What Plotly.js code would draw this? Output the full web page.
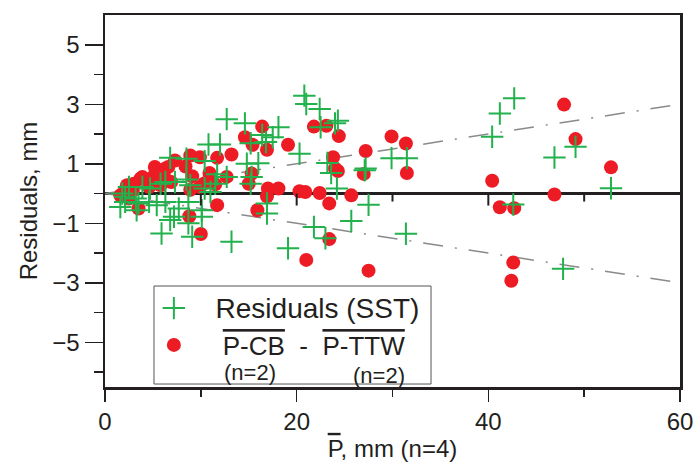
<!DOCTYPE html>
<html>
<head>
<meta charset="utf-8">
<script src="https://cdn.plot.ly/plotly-3.0.1.min.js"></script>
<style>html,body{margin:0;padding:0;background:#fff;}#chart{width:694px;height:464px;}</style>
</head>
<body>
<div id="chart"></div>
<script>
// Residuals (SST) – green plus markers
const sstX = [1.6,1.8,2.1,2.1,2.5,3.2,3.3,3.5,3.9,4.6,4.7,5.4,5.8,6.3,6.3,6.8,5.9,6.8,7.3,8.5,8.5,8.9,7.7,7.2,8.7,10.1,10.1,8.7,9.1,10.4,10.4,11.0,11.5,11.7,12.7,10.8,12.0,13.2,12.7,14.6,18.1,16.4,17.5,15.2,16.8,20.3,14.8,16.0,15.3,15.2,16.9,16.9,19.1,20.8,21.0,22.4,22.5,24.3,24.0,23.2,23.6,24.2,21.8,23.0,25.7,27.1,27.2,27.5,29.9,31.5,31.4,40.4,41.2,42.7,46.9,49.1,52.8,42.6,47.8];
const sstY = [-0.45,0.0,-0.28,-0.11,0.22,-0.17,-0.56,-0.33,0.22,-0.28,0.17,-0.39,0.33,0.39,-0.28,-0.89,-1.34,1.2,0.39,1.17,0.47,0.28,-0.5,-0.78,-0.28,-0.56,-0.78,-1.0,-1.45,1.09,0.17,0.05,0.33,0.65,0.56,1.65,1.65,-1.62,2.5,2.36,2.23,1.97,1.89,1.69,1.73,1.34,1.0,1.02,0.56,0.33,-0.33,-0.67,-1.84,3.29,3.01,2.84,2.23,2.45,2.36,1.03,0.69,0.17,-1.12,-1.5,-0.92,0.78,0.84,-0.38,1.19,1.19,-1.35,1.91,2.69,3.2,1.21,1.57,0.18,-0.37,-2.53];

// P-CB - P-TTW – red dots
const diffX = [1.6,2.1,2.3,2.5,2.9,3.0,3.5,3.7,3.9,4.3,4.6,5.0,5.2,5.2,5.8,5.8,6.3,6.5,6.6,6.9,7.3,8.4,8.9,9.1,8.9,9.9,9.9,10.4,10.9,11.5,11.7,12.7,13.2,11.7,8.8,10.0,14.6,15.4,16.4,16.9,19.1,15.3,15.0,17.0,18.1,16.9,20.3,20.9,22.4,15.9,21.0,21.8,23.1,24.4,23.8,24.0,24.3,23.4,23.4,25.7,27.2,27.0,29.9,31.4,31.5,27.5,40.4,41.2,42.7,42.6,42.4,46.9,47.9,49.1,52.8];
const diffY = [-0.06,0.11,0.28,-0.17,0.1,0.33,-0.5,0.5,0.56,0.45,0.22,0.56,0.44,0.89,0.61,0.28,0.84,0.44,0.89,0.39,1.11,0.91,1.28,0.58,0.13,1.22,0.22,0.35,0.69,0.31,1.2,0.56,1.31,-0.39,-0.76,-1.36,1.89,1.64,2.25,1.47,1.64,0.67,0.33,0.17,0.17,-0.09,0.08,0.05,0.02,-0.56,-2.23,2.25,2.28,1.93,1.22,0.84,0.76,-0.33,-1.53,-0.06,1.43,0.66,1.92,1.68,0.69,-2.59,0.43,-0.46,-0.49,-2.32,-2.93,-0.03,2.99,1.83,0.88];

// envelope lines (dash-dot)
const envX = [0, 60];
const envUpper = [0, 3];
const envLower = [0, -3];

// axes
const xRange = [0, 60];
const yRange = [-6.5, 6];
const xTickVals = [0, 20, 40, 60];
const xMinorVals = [10, 30, 50];
const yTickVals = [-5, -3, -1, 1, 3, 5];
const yMinorVals = [-6, -4, -2, 0, 2, 4];
const zeroTickVals = [10, 20, 40];   // long ticks hanging from the zero line
const zeroMinorVals = [30, 50];      // short ticks hanging from the zero line

// legend labels
const sstLabel = 'Residuals (SST)';
const diffLabelA = 'P-CB';
const diffLabelB = 'P-TTW';
const nLabel = '(n=2)';

const FONT = '"Liberation Sans", Arial, Helvetica, sans-serif';
const INK = '#231f20';
const RED = '#ed1c24';
const GREEN = '#22b14c';
const OL = s => '<span style="text-decoration:overline">' + s + '</span>';
const NB = n => '\u00A0'.repeat(n);

const W = 694, H = 464, M = {l: 105, r: 14, t: 15, b: 77};
const pxPerY = (H - M.t - M.b) / (yRange[1] - yRange[0]);

const envStyle = {color: '#8a8a8a', width: 1.5, dash: '20px,12px,2px,12px'};

// tick marks hanging from the zero line (axis decoration built from the tick value arrays)
function zeroTickShapes(vals, lenPx) {
  return vals.map(v => ({
    type: 'line', xref: 'x', yref: 'y', x0: v, x1: v, y0: 0, y1: -lenPx / pxPerY,
    line: {color: INK, width: 2}, layer: 'above'
  }));
}

const traces = [
  {x: envX, y: envUpper, mode: 'lines', line: envStyle, showlegend: false, hoverinfo: 'skip'},
  {x: envX, y: envLower, mode: 'lines', line: envStyle, showlegend: false, hoverinfo: 'skip'},
  {x: diffX, y: diffY, mode: 'markers', type: 'scatter', legendrank: 2,
   name: NB(4) + OL(diffLabelA) + NB(2) + '-' + NB(2) + OL(diffLabelB),
   marker: {symbol: 'circle', size: 14, color: RED, line: {width: 0}}},
  {x: sstX, y: sstY, mode: 'markers', type: 'scatter', legendrank: 1,
   name: NB(3) + '<span style="font-size:28px">' + sstLabel + '</span>',
   marker: {symbol: 'cross-thin-open', size: 16, color: GREEN, line: {width: 2, color: GREEN}}}
];

const layout = {
  width: W, height: H,
  margin: M,
  paper_bgcolor: '#fff', plot_bgcolor: '#fff',
  font: {family: FONT, color: INK, size: 24},
  showlegend: true,
  legend: {
    x: 0.085, y: 0.275, xanchor: 'left', yanchor: 'top',
    bgcolor: 'rgba(0,0,0,0)', borderwidth: 0,
    font: {family: FONT, size: 26, color: INK},
    itemwidth: 30, valign: 'middle'
  },
  shapes: [
    {type: 'rect', xref: 'paper', yref: 'paper', x0: 0.0852, x1: 0.567, y0: 0.008, y1: 0.2715,
     line: {color: '#555', width: 1}, fillcolor: '#fff', layer: 'above'}
  ].concat(zeroTickShapes(zeroTickVals, 12), zeroTickShapes(zeroMinorVals, 8)),
  annotations: [
    {text: nLabel, xref: 'paper', yref: 'paper', x: 0.252, y: 0.0403, showarrow: false,
     xanchor: 'center', yanchor: 'middle', font: {family: FONT, size: 22, color: INK}},
    {text: nLabel, xref: 'paper', yref: 'paper', x: 0.476, y: 0.0296, showarrow: false,
     xanchor: 'center', yanchor: 'middle', font: {family: FONT, size: 22, color: INK}}
  ],
  xaxis: {
    range: xRange, showgrid: false, zeroline: false,
    showline: true, linecolor: INK, linewidth: 2.5, mirror: true,
    ticks: 'outside', tickvals: xTickVals, ticklen: 12, tickwidth: 1.5, tickcolor: INK,
    minor: {tickvals: xMinorVals, ticks: 'outside', ticklen: 7, tickwidth: 1.5, tickcolor: INK, showgrid: false},
    tickfont: {size: 24},
    title: {text: OL('P') + ', mm (n=4)', font: {size: 24}, standoff: 6}
  },
  yaxis: {
    range: yRange, showgrid: false,
    zeroline: true, zerolinecolor: INK, zerolinewidth: 3,
    showline: true, linecolor: INK, linewidth: 2.5, mirror: true,
    ticks: 'outside', tickvals: yTickVals, ticklen: 18, tickwidth: 1.5, tickcolor: INK,
    minor: {tickvals: yMinorVals, ticks: 'outside', ticklen: 9, tickwidth: 1.5, tickcolor: INK, showgrid: false},
    tickfont: {size: 24},
    title: {text: 'Residuals, mm', font: {size: 24}, standoff: 8}
  }
};

Plotly.newPlot('chart', traces, layout, {displayModeBar: false, staticPlot: true});
</script>
</body>
</html>
